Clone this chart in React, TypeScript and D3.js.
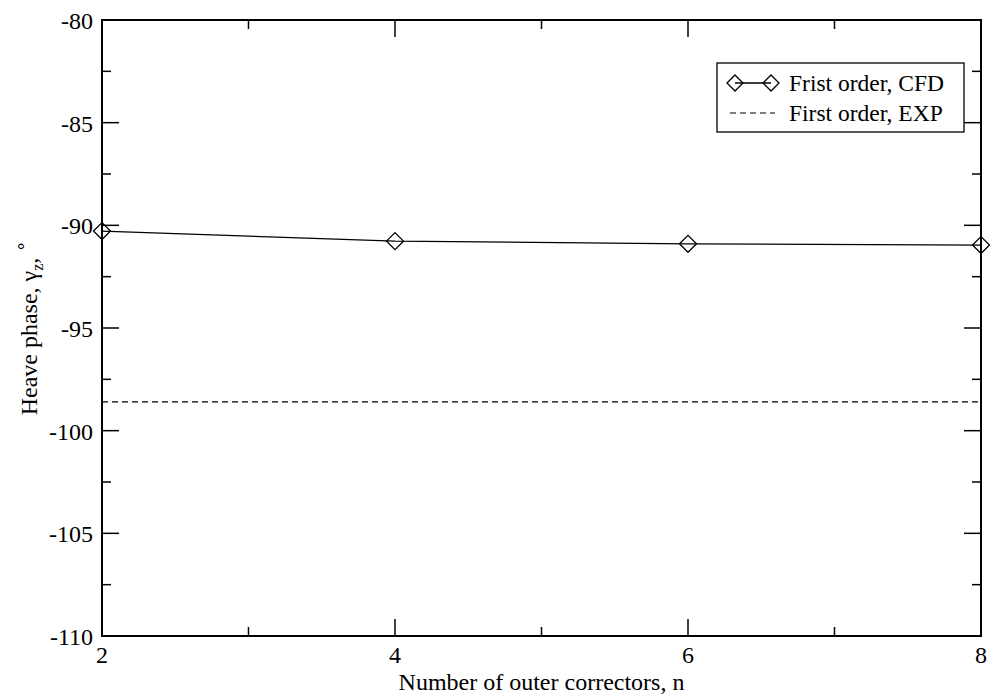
import React from "react";
import * as d3 from "d3";

const xs = [2, 4, 6, 8];
const cfd = [-90.28, -90.77, -90.9, -90.96];
const expValue = -98.6;
const yTicks = [-110, -105, -100, -95, -90, -85, -80];
const xTicks = [2, 4, 6, 8];
const legendLabels = ["Frist order, CFD", "First order, EXP"];

const W = 993, H = 697;
const L = 102, R = 981, T = 20, B = 636;
const font = "'Liberation Serif', 'Times New Roman', serif";

function Diamond({ x, y, r = 8.5 }: { x: number; y: number; r?: number }) {
  return (
    <path
      d={`M${x - r},${y}L${x},${y - r}L${x + r},${y}L${x},${y + r}Z`}
      fill="none"
      stroke="#000"
      strokeWidth={1.3}
    />
  );
}

export default function App() {
  const x = d3.scaleLinear().domain([2, 8]).range([L, R]);
  const y = d3.scaleLinear().domain([-110, -80]).range([B, T]);
  const line = d3
    .line<number>()
    .x((_, i) => x(xs[i]))
    .y((d) => y(d));
  const yMinor = d3.range(-110, -79, 2.5).filter((v) => v % 5 !== 0);
  const xMinor = d3.range(2, 8.01, 1).filter((v) => v % 2 !== 0);
  return (
    <svg width={W} height={H} style={{ position: "absolute", left: 0, top: 0 }} fontFamily={font}>
      <rect width={W} height={H} fill="#fff" />
      {yTicks.map((t) => (
        <g key={"y" + t}>
          <line x1={L} x2={L + 17} y1={y(t)} y2={y(t)} stroke="#000" strokeWidth={1.5} />
          <line x1={R} x2={R - 17} y1={y(t)} y2={y(t)} stroke="#000" strokeWidth={1.5} />
          <text x={L - 9} y={y(t) + 9} textAnchor="end" fontSize={24}>
            {t}
          </text>
        </g>
      ))}
      {yMinor.map((t) => (
        <g key={"ym" + t}>
          <line x1={L} x2={L + 9} y1={y(t)} y2={y(t)} stroke="#000" strokeWidth={1.5} />
          <line x1={R} x2={R - 9} y1={y(t)} y2={y(t)} stroke="#000" strokeWidth={1.5} />
        </g>
      ))}
      {xTicks.map((t) => (
        <g key={"x" + t}>
          <line x1={x(t)} x2={x(t)} y1={B} y2={B - 17} stroke="#000" strokeWidth={1.5} />
          <line x1={x(t)} x2={x(t)} y1={T} y2={T + 17} stroke="#000" strokeWidth={1.5} />
          <text x={x(t)} y={B + 27} textAnchor="middle" fontSize={24}>
            {t}
          </text>
        </g>
      ))}
      {xMinor.map((t) => (
        <g key={"xm" + t}>
          <line x1={x(t)} x2={x(t)} y1={B} y2={B - 9} stroke="#000" strokeWidth={1.5} />
          <line x1={x(t)} x2={x(t)} y1={T} y2={T + 9} stroke="#000" strokeWidth={1.5} />
        </g>
      ))}
      <line
        x1={L}
        x2={R}
        y1={y(expValue)}
        y2={y(expValue)}
        stroke="#000"
        strokeWidth={1.2}
        strokeDasharray="6,4"
      />
      <path d={line(cfd) || ""} fill="none" stroke="#000" strokeWidth={1.3} />
      {cfd.map((v, i) => (
        <Diamond key={i} x={x(xs[i])} y={y(v)} />
      ))}
      <rect x={L} y={T} width={R - L} height={B - T} fill="none" stroke="#000" strokeWidth={2} />
      <rect x={717} y={63} width={247} height={69} fill="#fff" stroke="#000" strokeWidth={1.3} />
      <line x1={735} x2={771} y1={83} y2={83} stroke="#000" strokeWidth={1.3} />
      <Diamond x={735} y={83} r={8} />
      <Diamond x={771} y={83} r={8} />
      <text x={789} y={91} fontSize={23.5}>
        {legendLabels[0]}
      </text>
      <line x1={730} x2={775} y1={113} y2={113} stroke="#000" strokeWidth={1.2} strokeDasharray="6,4" />
      <text x={789} y={121} fontSize={23.5}>
        {legendLabels[1]}
      </text>
      <text x={(L + R) / 2} y={690} textAnchor="middle" fontSize={24}>
        Number of outer correctors, n
      </text>
      <text transform={`translate(37,${(T + B) / 2}) rotate(-90)`} textAnchor="middle" fontSize={24}>
        Heave phase, γ
        <tspan dy="6" fontSize={16}>z</tspan>
        <tspan dy="-6">, </tspan>
        <tspan dy="-11" fontSize={18}>∘</tspan>
      </text>
    </svg>
  );
}
